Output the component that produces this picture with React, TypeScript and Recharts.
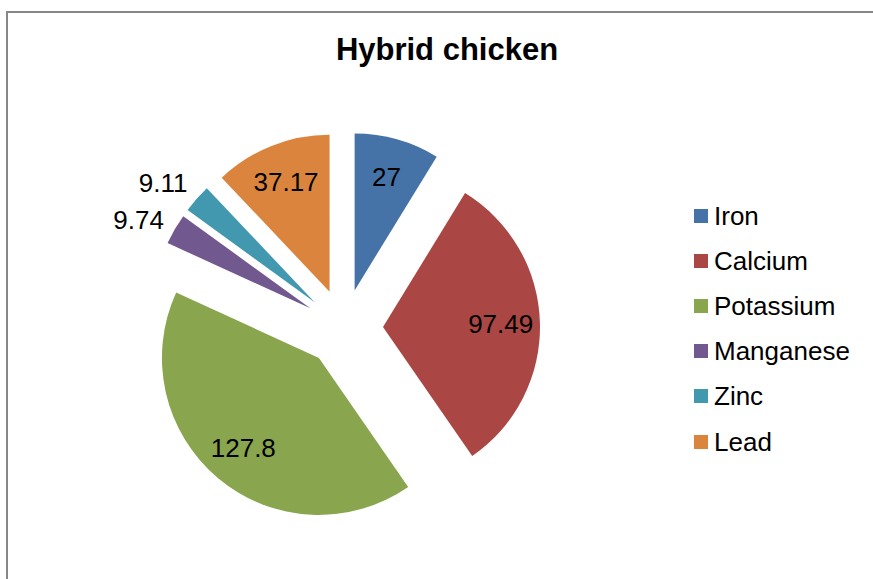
import React from 'react';
import { PieChart, Pie, Cell, Sector, Legend } from 'recharts';

const categories = ['Iron', 'Calcium', 'Potassium', 'Manganese', 'Zinc', 'Lead'];
const values = [27, 97.49, 127.8, 9.74, 9.11, 37.17];
const colors = ['#4572A7', '#AA4643', '#89A54E', '#71588F', '#4198AF', '#DB843D'];
const title = 'Hybrid chicken';

const data = categories.map((name, i) => ({ name, value: values[i] }));

const RAD = Math.PI / 180;
const EXPLODE = 39;
const FONT = '"Liberation Sans", Arial, sans-serif';

function renderSlice(props: any) {
  const { cx, cy, midAngle, outerRadius, startAngle, endAngle, index, percent, value } = props;
  const ex = cx + EXPLODE * Math.cos(-midAngle * RAD);
  const ey = cy + EXPLODE * Math.sin(-midAngle * RAD);
  const outside = percent < 0.05;
  const lr = outside ? outerRadius * 1.23 : outerRadius * 0.75;
  const la = outside ? midAngle + 3 : midAngle;
  const lx = ex + lr * Math.cos(-la * RAD);
  const ly = ey + lr * Math.sin(-la * RAD);
  return (
    <g key={`s-${index}`}>
      <Sector
        cx={ex}
        cy={ey}
        innerRadius={0}
        outerRadius={outerRadius}
        startAngle={startAngle}
        endAngle={endAngle}
        fill={colors[index]}
        stroke="none"
      />
      <text
        x={lx}
        y={ly}
        textAnchor="middle"
        dominantBaseline="central"
        fontFamily={FONT}
        fontSize={26}
        fill="#000"
      >
        {value}
      </text>
    </g>
  );
}

const renderLegend = () => (
  <div style={{ fontFamily: FONT, fontSize: 26, color: '#000' }}>
    {categories.map((c, i) => (
      <div key={c} style={{ height: 45.2, display: 'flex', alignItems: 'center' }}>
        <span
          style={{
            display: 'inline-block',
            width: 14,
            height: 14,
            background: colors[i],
            marginRight: 6,
          }}
        />
        <span style={{ lineHeight: '26px' }}>{c}</span>
      </div>
    ))}
  </div>
);

export default function App() {
  return (
    <div
      style={{
        position: 'fixed',
        left: 0,
        top: 0,
        width: 873,
        height: 579,
        overflow: 'hidden',
        background: '#fff',
      }}
    >
      <div
        style={{
          position: 'absolute',
          left: 6,
          top: 11,
          width: 900,
          height: 620,
          border: '2px solid #878787',
          boxSizing: 'border-box',
        }}
      />
      <div
        style={{
          position: 'absolute',
          left: 0,
          top: 30,
          width: 894,
          textAlign: 'center',
          fontFamily: FONT,
          fontWeight: 'bold',
          fontSize: 31,
          lineHeight: '40px',
          color: '#000',
        }}
      >
        {title}
      </div>
      <div style={{ position: 'absolute', left: 0, top: 0 }}>
        <PieChart width={873} height={579} margin={{ top: 0, right: 0, bottom: 0, left: 0 }}>
          <Pie
            data={data}
            dataKey="value"
            nameKey="name"
            cx={344}
            cy={328}
            outerRadius={157}
            startAngle={90}
            endAngle={-270}
            stroke="none"
            label={renderSlice}
            labelLine={false}
            isAnimationActive={false}
          >
            {data.map((d, i) => (
              <Cell key={d.name} fill="none" stroke="none" />
            ))}
          </Pie>
          <Legend
            layout="vertical"
            align="right"
            verticalAlign="middle"
            content={renderLegend}
            wrapperStyle={{ left: 694, top: 193, width: 179, right: 'auto', bottom: 'auto' }}
          />
        </PieChart>
      </div>
    </div>
  );
}
